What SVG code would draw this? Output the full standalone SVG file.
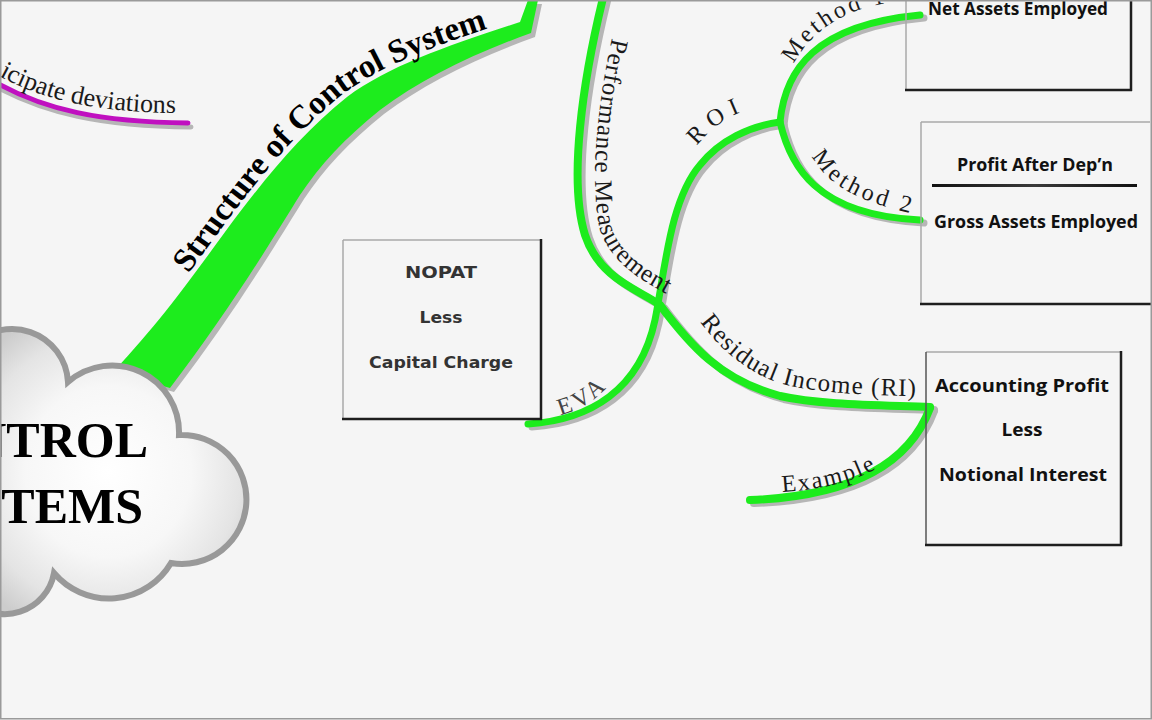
<svg xmlns="http://www.w3.org/2000/svg" width="1152" height="720" viewBox="0 0 1152 720">
<defs>
<radialGradient id="cloudGrad" cx="0.5" cy="0.5" r="0.6">
<stop offset="0" stop-color="#ffffff"/>
<stop offset="0.5" stop-color="#f7f7f7"/>
<stop offset="0.8" stop-color="#e4e4e4"/>
<stop offset="1" stop-color="#cccccc"/>
</radialGradient>
<linearGradient id="ruleGrad" x1="0" x2="1" y1="0" y2="0">
<stop offset="0" stop-color="#111"/><stop offset="0.5" stop-color="#3a3a3a"/><stop offset="1" stop-color="#111"/>
</linearGradient>
<path id="pDev" d="M -8,72 C 40,100 95,112 176,113"/>
<path id="pStruct" d="M 109,369 C 156,319 186,277 221,229 C 261,175 296,132 343,94 C 386,62 446,42 516,19"/>
<path id="pPerf" d="M 612,38 C 596,110 590,185 600,230 C 612,265 645,283 680,301"/>
<path id="pRI" d="M 700,322 C 725,355 755,380 800,388 C 840,394 880,396 928,396"/>
<path id="pROI" d="M 697,146 C 712,126 732,113 760,106"/>
<path id="pM1" d="M 794,64 C 806,40 830,18 868,7 L 910,-2"/>
<path id="pM2" d="M 812,156 C 827,184 857,204 930,217"/>
<path id="pEVA" d="M 560,415 C 582,410 600,398 622,370"/>
<path id="pEx" d="M 782,492 C 845,488 895,470 915,430"/>
</defs>
<style>
.sh{fill:none;stroke:#b6b6b6;stroke-linecap:round;stroke-linejoin:round}
.gr{fill:none;stroke:#1dec1d;stroke-linecap:round;stroke-linejoin:round}
.lbl{font-family:"Liberation Serif","Times New Roman",serif;fill:#1a1a1a;font-size:24px}
.lt{stroke:#a8a8a8;stroke-width:1.5}
.dk{stroke:#1e1e1e;stroke-width:2.5}
.bt{font-family:"Open Sans","Liberation Sans",sans-serif;font-weight:bold;fill:#111;text-anchor:middle;font-size:18px}
.nt{font-family:"DejaVu Sans","Liberation Sans",sans-serif;font-weight:bold;fill:#333;text-anchor:middle;font-size:15px}
</style>
<rect x="0" y="0" width="1152" height="720" fill="#f5f5f5"/>

<g id="connectors">
  <!-- magenta branch -->
  <path class="sh" d="M -5,86 C 45,113 100,126 191,127" stroke-width="5"/>
  <path d="M -5,82 C 45,110 100,122 188,123" fill="none" stroke="#c010c0" stroke-width="5" stroke-linecap="round"/>
  <!-- main thick branch -->
  <path transform="translate(4,4)" d="M 113,372 C 160,322 190,280 225,232 C 265,178 300,135 347,97 C 390,65 450,45 520,22 L 528,0 L 538,0 L 531,33 C 470,55 420,80 380,110 C 345,138 320,165 300,195 C 275,235 230,310 170,388 Z" fill="#b6b6b6"/>
  <path d="M 113,372 C 160,322 190,280 225,232 C 265,178 300,135 347,97 C 390,65 450,45 520,22 L 528,0 L 538,0 L 531,33 C 470,55 420,80 380,110 C 345,138 320,165 300,195 C 275,235 230,310 170,388 Z" fill="#1dec1d"/>
  <!-- shadows -->
  <g transform="translate(4,3)">
    <path class="sh" stroke-width="8" d="M 603,-2 C 583,80 568,180 585,235 C 600,280 640,290 660,305 C 690,345 720,380 780,396 C 820,405 880,405 930,407"/>
    <path class="sh" stroke-width="7" d="M 528,424 C 590,420 640,390 655,320 C 665,270 670,200 700,165 C 720,140 750,126 780,122"/>
    <path class="sh" stroke-width="7" d="M 780,122 C 785,70 815,25 920,15"/>
    <path class="sh" stroke-width="7" d="M 780,122 C 790,165 815,215 920,220"/>
    <path class="sh" stroke-width="8" d="M 750,500 C 830,497 905,475 930,408"/>
  </g>
  <!-- green branches -->
  <path class="gr" stroke-width="8" d="M 603,-2 C 583,80 568,180 585,235 C 600,280 640,290 660,305 C 690,345 720,380 780,396 C 820,405 880,405 930,407"/>
  <path class="gr" stroke-width="7" d="M 528,424 C 590,420 640,390 655,320 C 665,270 670,200 700,165 C 720,140 750,126 780,122"/>
  <path class="gr" stroke-width="7" d="M 780,122 C 785,70 815,25 920,15"/>
  <path class="gr" stroke-width="7" d="M 780,122 C 790,165 815,215 920,220"/>
  <path class="gr" stroke-width="8" d="M 750,500 C 830,497 905,475 930,408"/>
</g>

<g id="labels">
  <text class="lbl" style="font-size:26px"><textPath href="#pDev" startOffset="100%" text-anchor="end">icipate deviations</textPath></text>
  <text class="lbl" style="font-size:33px;font-weight:bold;fill:#000"><textPath href="#pStruct" startOffset="124">Structure of Control System</textPath></text>
  <text class="lbl" style="font-size:25px" letter-spacing="0.8"><textPath href="#pPerf">Performance Measurement</textPath></text>
  <text class="lbl" style="font-size:25px" letter-spacing="1.2"><textPath href="#pRI">Residual Income (RI)</textPath></text>
  <text class="lbl" letter-spacing="7"><textPath href="#pROI">ROI</textPath></text>
  <text class="lbl" letter-spacing="3"><textPath href="#pM1">Method 1</textPath></text>
  <text class="lbl" letter-spacing="3.5"><textPath href="#pM2">Method 2</textPath></text>
  <text class="lbl" letter-spacing="4" style="fill:#444"><textPath href="#pEVA">EVA</textPath></text>
  <text class="lbl" letter-spacing="2"><textPath href="#pEx">Example</textPath></text>
</g>

<g id="node-cloud">
  <path d="M -30,348 A 56,56 0 0 1 68,382 A 67,67 0 0 1 179,435 A 64.5,64.5 0 1 1 171,563 A 72,72 0 0 1 54,573 A 50,50 0 0 1 -30,600 Z" fill="url(#cloudGrad)" stroke="#999" stroke-width="6"/>
  <text x="148" y="457" text-anchor="end" font-family="'Liberation Serif','Times New Roman',serif" font-weight="bold" font-size="50" fill="#000">NTROL</text>
  <text x="143" y="523" text-anchor="end" font-family="'Liberation Serif','Times New Roman',serif" font-weight="bold" font-size="50" fill="#000">TEMS</text>
</g>

<g id="node-nopat">
  <rect x="343" y="240" width="198" height="179" fill="#f5f5f5" stroke="none"/>
  <line class="lt" x1="343" y1="240" x2="541" y2="240"/>
  <line class="lt" x1="343" y1="240" x2="343" y2="419"/>
  <line class="dk" x1="541" y1="239" x2="541" y2="420"/>
  <line class="dk" x1="342" y1="419" x2="542" y2="419"/>
  <text class="nt" x="441" y="278" textLength="72" lengthAdjust="spacingAndGlyphs">NOPAT</text>
  <text class="nt" x="441" y="323" textLength="43" lengthAdjust="spacingAndGlyphs">Less</text>
  <text class="nt" x="441" y="368" textLength="144" lengthAdjust="spacingAndGlyphs">Capital Charge</text>
</g>

<g id="node-net-assets">
  <line class="lt" x1="906" y1="0" x2="906" y2="90"/>
  <line class="dk" x1="1131" y1="0" x2="1131" y2="91"/>
  <line class="dk" x1="905" y1="90" x2="1132" y2="90"/>
  <text class="bt" x="1018" y="15" textLength="180" lengthAdjust="spacingAndGlyphs">Net Assets Employed</text>
</g>

<g id="node-gross-assets">
  <line class="lt" x1="921" y1="122" x2="1150" y2="122"/>
  <line class="lt" x1="921" y1="122" x2="921" y2="304"/>
  <line class="dk" x1="920" y1="304" x2="1151" y2="304"/>
  <text class="bt" x="1035" y="171" textLength="156" lengthAdjust="spacingAndGlyphs">Profit After Dep’n</text>
  <rect x="932" y="184" width="205" height="3" fill="url(#ruleGrad)"/>
  <text class="bt" x="1036" y="228" textLength="204" lengthAdjust="spacingAndGlyphs">Gross Assets Employed</text>
</g>

<g id="node-accounting">
  <line class="lt" x1="926" y1="352" x2="1121" y2="352"/>
  <line x1="926" y1="352" x2="926" y2="545" stroke="#555" stroke-width="1.5"/>
  <line class="dk" x1="1121" y1="351" x2="1121" y2="546"/>
  <line class="dk" x1="925" y1="545" x2="1122" y2="545"/>
  <text class="bt" x="1022" y="392" textLength="174" lengthAdjust="spacingAndGlyphs">Accounting Profit</text>
  <text class="bt" x="1022" y="436" textLength="41" lengthAdjust="spacingAndGlyphs">Less</text>
  <text class="bt" x="1023" y="481" textLength="168" lengthAdjust="spacingAndGlyphs">Notional Interest</text>
</g>

<rect x="0.75" y="0.75" width="1150.5" height="718" fill="none" stroke="#9a9a9a" stroke-width="1.5"/>
</svg>
